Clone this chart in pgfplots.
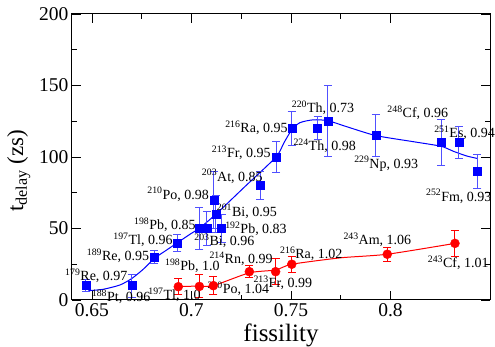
\documentclass[border=0pt]{standalone}
\usepackage{fontspec}
\setmainfont{Liberation Serif}
\usepackage{pgfplots}
\pgfplotsset{compat=1.18}
\usepackage{pgfplotstable}

\pgfplotstableread{
x y e
0.6470 10 4
0.6700 10 8
0.6813 30 4.5
0.6929 40 6
0.7040 50 15
0.7077 50 12
0.7152 50 10
0.7113 70 20
0.7123 60 13
0.7345 80 10
0.7425 100 11
0.7504 120 12
0.7634 120 8
0.7685 125 25
0.7926 115 15
0.8254 110 16
0.8344 110 11
0.8436 90 12
}\bluedata

\pgfplotstableread{
x y e
0.6934 9.3 5.5
0.7040 9.5 8
0.7110 10 6.5
0.7291 19.8 4
0.7423 19.8 9
0.7504 25 5.5
0.7984 32 5
0.8324 39.6 9
}\reddata

\pgfplotstableread{
x y
0.6482 6.5
0.6557 7.5
0.6641 10.5
0.6700 15
0.6758 21.5
0.6813 29
0.6876 35
0.6929 40
0.6993 46
0.7043 50.5
0.7123 60
0.7274 80
0.7425 100
0.7465 110
0.7504 119
0.7545 124
0.7612 126
0.7685 125.4
0.7780 121.2
0.7926 115
0.8115 110.7
0.8254 107.5
0.8316 104
0.8383 100.7
0.8436 99
}\bluefit

\pgfplotstableread{
x y
0.6934 9.5
0.7040 9.7
0.7110 10
0.7291 19
0.7423 21
0.7504 25
0.7750 29.5
0.7984 32
0.8324 39.6
}\redfit

\newcommand{\lab}[2]{\textsuperscript{#1}#2}
\tikzset{lbl/.style={anchor=base west, inner sep=0pt, font=\fontsize{14}{16}\selectfont}}
\definecolor{ebblue}{RGB}{80,80,255}

\begin{document}
\begin{tikzpicture}
\begin{axis}[
  width=418pt, height=286pt, scale only axis,
  xmin=0.64, xmax=0.85, ymin=0, ymax=200,
  xtick={0.65,0.7,0.75,0.8}, minor x tick num=1,
  ytick={0,50,100,150,200}, minor y tick num=1,
  tick align=inside, major tick length=9pt, minor tick length=5pt,
  tick style={black, line width=0.8pt},
  axis line style={line width=1pt},
  /pgf/number format/assume math mode=true,
  ticklabel style={font=\fontsize{19.5}{20}\selectfont},
  xticklabel style={/pgf/number format/fixed, /pgf/number format/precision=2},
  label style={font=\fontsize{25}{28}\selectfont},
  xlabel={fissility},
  ylabel={t\textsubscript{delay} (zs)},
  xlabel style={at={(axis description cs:0.5,-0.1458)}, anchor=base, inner sep=0pt},
  ylabel style={font=\fontsize{23}{26}\selectfont, at={(axis description cs:-0.1555,0.452)}, anchor=north, inner sep=0pt},
  clip=false,
]
\addplot[blue, line width=1pt, smooth, tension=0.4] table[x=x,y=y] {\bluefit};
\addplot[red, line width=1pt, smooth, tension=0.4] table[x=x,y=y] {\redfit};

\addplot[only marks, mark=square*, mark size=4pt, blue,
  error bars/.cd, y dir=both, y explicit,
  error bar style={ebblue, line width=1pt},
  error mark options={rotate=90, ebblue, mark size=4pt, line width=1pt}]
  table[x=x, y=y, y error=e] {\bluedata};

\addplot[only marks, mark=*, mark size=4.5pt, red,
  error bars/.cd, y dir=both, y explicit,
  error bar style={red, line width=1pt},
  error mark options={rotate=90, red, mark size=4pt, line width=1pt}]
  table[x=x, y=y, y error=e] {\reddata};

\node[lbl] at (axis cs:0.6365,13.3) {\lab{179}{Re, 0.97}};
\node[lbl] at (axis cs:0.6499,-1.4) {\lab{188}{Pt, 0.96}};
\node[lbl] at (axis cs:0.6474,27.3) {\lab{189}{Re, 0.95}};
\node[lbl] at (axis cs:0.6607,38.5) {\lab{197}{Tl, 0.96}};
\node[lbl] at (axis cs:0.6711,49.0) {\lab{198}{Pb, 0.85}};
\node[lbl] at (axis cs:0.6778,70.6) {\lab{210}{Po, 0.98}};
\node[lbl] at (axis cs:0.7052,83.2) {\lab{203}{At, 0.85}};
\node[lbl] at (axis cs:0.7127,58.7) {\lab{201}{Bi, 0.95}};
\node[lbl] at (axis cs:0.7169,46.2) {\lab{192}{Pb, 0.83}};
\node[lbl] at (axis cs:0.7014,37.8) {\lab{203}{Bi, 0.96}};
\node[lbl] at (axis cs:0.7090,25.2) {\lab{214}{Rn, 0.99}};
\node[lbl] at (axis cs:0.6867,20.3) {\lab{198}{Pb, 1.0}};
\node[lbl] at (axis cs:0.6783,0.0) {\lab{197}{Tl, 1.0}};
\node[lbl] at (axis cs:0.7080,4.2) {\lab{210}{Po, 1.04}};
\node[lbl] at (axis cs:0.7311,8.4) {\lab{213}{Fr, 0.99}};
\node[lbl] at (axis cs:0.7445,28.7) {\lab{216}{Ra, 1.02}};
\node[lbl] at (axis cs:0.7763,38.5) {\lab{243}{Am, 1.06}};
\node[lbl] at (axis cs:0.8187,22.4) {\lab{243}{Cf, 1.01}};
\node[lbl] at (axis cs:0.7102,99.3) {\lab{213}{Fr, 0.95}};
\node[lbl] at (axis cs:0.7169,116.8) {\lab{216}{Ra, 0.95}};
\node[lbl] at (axis cs:0.7504,130.8) {\lab{220}{Th, 0.73}};
\node[lbl] at (axis cs:0.7512,104.2) {\lab{224}{Th, 0.98}};
\node[lbl] at (axis cs:0.7817,92.3) {\lab{229}{Np, 0.93}};
\node[lbl] at (axis cs:0.7984,127.3) {\lab{248}{Cf, 0.96}};
\node[lbl] at (axis cs:0.8219,113.3) {\lab{251}{Es, 0.94}};
\node[lbl] at (axis cs:0.8178,69.2) {\lab{252}{Fm, 0.93}};
\end{axis}
\pgfresetboundingbox
\useasboundingbox (current axis.south west) ++(-72pt,-47pt) rectangle ([xshift=5pt,yshift=14pt]current axis.north east);
\end{tikzpicture}
\end{document}
